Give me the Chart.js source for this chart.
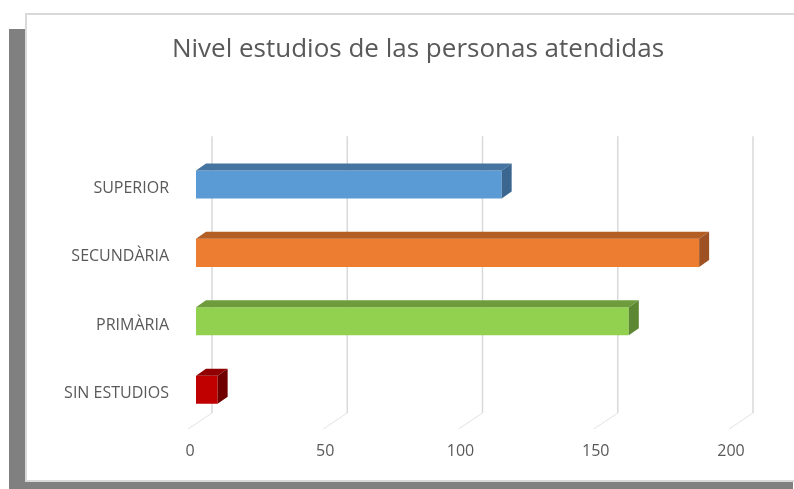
<!DOCTYPE html>
<html>
<head>
<meta charset="utf-8">
<script src="https://cdn.jsdelivr.net/npm/chart.js@4/dist/chart.umd.min.js"></script>
<style>
  html, body { margin: 0; padding: 0; background: #fff; overflow: hidden; }
  #shadow { position: absolute; left: 9px; top: 29px; width: 784px; height: 460px; background: #808080; }
  #box { position: absolute; left: 25px; top: 13px; width: 780px; height: 469px; box-sizing: border-box;
         background: #fff; border: 2px solid #d9d9d9; border-right: none; }
  #chart { position: absolute; left: 0; top: 0; }
</style>
</head>
<body>
<div id="shadow"></div>
<div id="box"></div>
<canvas id="chart" width="794" height="489"></canvas>
<script>
// data
const categories = ["SUPERIOR", "SECUNDÀRIA", "PRIMÀRIA", "SIN ESTUDIOS"];
const values = [113, 186, 160, 8];
const xTicks = [0, 50, 100, 150, 200];

const frontColors = ["#5b9bd5", "#ed7d31", "#92d050", "#c00000"];
const topColors   = ["#44749f", "#b35e25", "#6e9c3c", "#900000"];
const sideColors  = ["#3a6690", "#9e5224", "#5e8733", "#700000"];

// 3D look: bar depth and wall depth
const BAR_DX = 10, BAR_DY = 7;
const BACK_DX = 16, BACK_DY = 11;
const FRONT_DX = -8, FRONT_DY = 5;

// title is centred on the white box, not on the plot
const titleShift = {
  id: "titleShift",
  afterLayout(chart) {
    if (chart.titleBlock) {
      chart.titleBlock.left = 42;
      chart.titleBlock.right = 794;
    }
  }
};

const gridPlugin = {
  id: "grid3d",
  beforeDatasetsDraw(chart) {
    const { ctx, chartArea, scales } = chart;
    const xs = scales.x;
    ctx.save();
    xTicks.forEach(v => {
      const px = xs.getPixelForValue(v);
      ctx.strokeStyle = "#d9d9d9";
      ctx.lineWidth = 1.5;
      ctx.beginPath();
      ctx.moveTo(px + BACK_DX, chartArea.top - 14);
      ctx.lineTo(px + BACK_DX, chartArea.bottom - BACK_DY);
      ctx.stroke();
      ctx.strokeStyle = "#e2e2e2";
      ctx.lineWidth = 1;
      ctx.beginPath();
      ctx.moveTo(px + BACK_DX, chartArea.bottom - BACK_DY);
      ctx.lineTo(px + FRONT_DX, chartArea.bottom + FRONT_DY);
      ctx.stroke();
    });
    ctx.restore();
  }
};

const barsPlugin = {
  id: "bars3d",
  afterDatasetsDraw(chart) {
    const { ctx } = chart;
    const meta = chart.getDatasetMeta(0);
    ctx.save();
    meta.data.forEach((bar, i) => {
      const p = bar.getProps(["x", "y", "base", "height"], true);
      const top = p.y - p.height / 2, bot = p.y + p.height / 2;
      // top face
      ctx.fillStyle = topColors[i];
      ctx.beginPath();
      ctx.moveTo(p.base, top);
      ctx.lineTo(p.base + BAR_DX, top - BAR_DY);
      ctx.lineTo(p.x + BAR_DX, top - BAR_DY);
      ctx.lineTo(p.x, top);
      ctx.closePath();
      ctx.fill();
      // side face
      ctx.fillStyle = sideColors[i];
      ctx.beginPath();
      ctx.moveTo(p.x, top);
      ctx.lineTo(p.x + BAR_DX, top - BAR_DY);
      ctx.lineTo(p.x + BAR_DX, bot - BAR_DY);
      ctx.lineTo(p.x, bot);
      ctx.closePath();
      ctx.fill();
    });
    ctx.restore();
  }
};

new Chart(document.getElementById("chart"), {
  type: "bar",
  data: {
    labels: categories,
    datasets: [{
      data: values,
      backgroundColor: frontColors,
      borderWidth: 0,
      barPercentage: 0.82,
      categoryPercentage: 0.5
    }]
  },
  options: {
    indexAxis: "y",
    responsive: false,
    animation: false,
    layout: { padding: { left: 0, right: 57, top: 0, bottom: 25 } },
    plugins: {
      legend: { display: false },
      tooltip: { enabled: false },
      title: {
        display: true,
        text: "Nivel estudios de las personas atendidas",
        color: "#595959",
        font: { family: "Open Sans", size: 26, weight: "normal" },
        padding: { top: 34, bottom: 85 }
      }
    },
    scales: {
      x: {
        min: 0, max: 200,
        afterBuildTicks: s => { s.ticks = xTicks.map(v => ({ value: v })); },
        grid: { display: false, drawTicks: false },
        border: { display: false },
        ticks: {
          color: "#595959",
          font: { family: "Open Sans", size: 16 },
          padding: 18,
          labelOffset: -6
        },
        afterFit: s => { s.height = 40; }
      },
      y: {
        grid: { display: false, drawTicks: false },
        border: { display: false },
        ticks: {
          color: "#595959",
          font: { family: "Open Sans", size: 16 },
          padding: 27,
          labelOffset: 4
        },
        afterFit: s => { s.width = 196; }
      }
    }
  },
  plugins: [titleShift, gridPlugin, barsPlugin]
});
</script>
</body>
</html>
